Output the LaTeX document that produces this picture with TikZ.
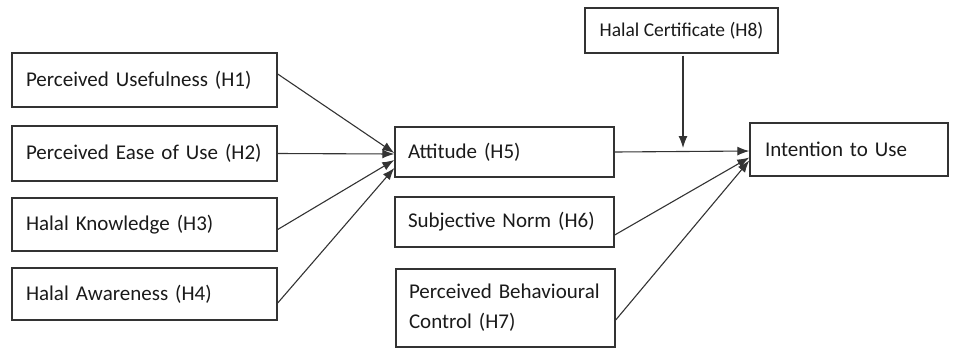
\documentclass[tikz,border=0pt]{standalone}
\usepackage{fontspec}
\setmainfont{Carlito}
\usetikzlibrary{arrows.meta,calc}
\definecolor{ln}{HTML}{333333}
\definecolor{tx}{HTML}{1A1A1A}
\tikzset{
  box/.style={draw=ln, line width=1.4pt, rectangle, inner xsep=14pt, inner ysep=2pt,
    align=left, text=tx, font=\fontsize{21}{30}\selectfont, anchor=center},
  conn/.style={draw=ln, line width=1.1pt, -{Latex[length=12pt,width=9pt]}}
}
\begin{document}
\begin{tikzpicture}[x=1pt,y=-1pt]
\useasboundingbox (0,0) rectangle (955,349);
\node[box, text width=237pt, minimum height=54pt] (h1) at (144.5,80) {Perceived Usefulness (H1)};
\node[box, text width=237pt, minimum height=55pt] (h2) at (144.5,153.5) {Perceived Ease of Use (H2)};
\node[box, text width=237pt, minimum height=53pt] (h3) at (144.5,224.5) {Halal Knowledge (H3)};
\node[box, text width=237pt, minimum height=52pt] (h4) at (144.5,294) {Halal Awareness (H4)};
\node[box, inner xsep=13pt, text width=193pt, minimum height=50pt] (att) at (504.5,152) {Attitude (H5)};
\node[box, inner xsep=13pt, text width=193pt, minimum height=50pt] (sn) at (504.5,222) {Subjective Norm (H6)};
\node[box, inner xsep=13pt, text width=193pt, minimum height=78pt] (pbc) at (505.5,308) {Perceived Behavioural\\Control (H7)};
\node[box, align=center, inner xsep=2pt, minimum width=193pt, minimum height=45pt, font=\fontsize{19.5}{24}\selectfont] (hc) at (681.5,30.5) {Halal Certificate (H8)};
\node[box, inner xsep=15pt, text width=168pt, minimum height=53pt] (int) at (849,149.5) {Intention to Use};
% convergence to Attitude
\draw[conn] ($(h1.east)+(0,-6)$) -- ($(att.west)+(0,1)$);
\draw[conn] (h2.east) -- ($(att.west)+(0,2)$);
\draw[conn] ($(h3.east)+(0,5)$) -- ($(att.west)+(0,8)$);
\draw[conn] ($(h4.east)+(0,9)$) -- ($(att.west)+(0,16)$);
% to Intention
\draw[conn] (att.east) -- ($(int.west)+(0,1.5)$);
\draw[conn] ($(sn.east)+(0,13)$) -- ($(int.west)+(0,8)$);
\draw[conn] ($(pbc.east)+(0,12)$) -- ($(int.west)+(0,11)$);
% moderator
\coordinate (mt) at (683,148);
\draw[conn] (hc.south -| mt) ++(0,2) -- (mt);
\end{tikzpicture}
\end{document}
